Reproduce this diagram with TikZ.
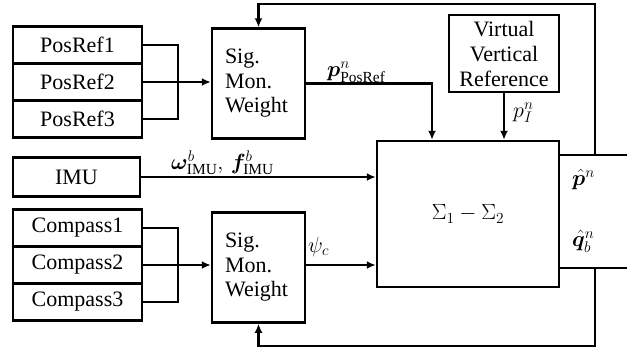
\RequirePackage{fix-cm}
\documentclass[tikz,border=0pt]{standalone}
\usepackage{amsmath}
\usepackage{fontspec}
\usepackage{bm}
\setmainfont{Liberation Serif}
\usetikzlibrary{arrows.meta,calc}
\begin{document}
\begin{tikzpicture}[x=1pt,y=-1pt,
  box/.style={draw,line width=2.5pt,inner sep=0pt,font=\fontsize{22}{25}\selectfont},
  wire/.style={line width=2.2pt},
  arr/.style={wire,-{Latex[length=9pt,width=8pt]}},
  lbl/.style={font=\fontsize{22}{25}\selectfont,inner sep=0pt},
  sigbox/.style={box,minimum width=93pt,minimum height=110pt,text width=67pt,inner xsep=13pt,align=left,font=\fontsize{22}{24.5}\selectfont}]
\useasboundingbox (0,0) rectangle (627,354);
% sources
\node[box,minimum width=129pt,minimum height=37pt] (pr1) at (77.5,45) {PosRef1};
\node[box,minimum width=129pt,minimum height=37pt] (pr2) at (77.5,82) {PosRef2};
\node[box,minimum width=129pt,minimum height=37pt] (pr3) at (77.5,119) {PosRef3};
\node[box,minimum width=127pt,minimum height=39pt] (imu) at (76.5,177) {IMU};
\node[box,minimum width=129pt,minimum height=37pt] (c1) at (77.5,228) {Compass1};
\node[box,minimum width=129pt,minimum height=37pt] (c2) at (77.5,265) {Compass2};
\node[box,minimum width=129pt,minimum height=37pt] (c3) at (77.5,302) {Compass3};
% monitors
\node[sigbox] (sig1) at (258.5,83.5) {Sig.\\Mon.\\Weight};
\node[sigbox] (sig2) at (258.5,267.5) {Sig.\\Mon.\\Weight};
% VVR and filter
\node[box,minimum width=110pt,minimum height=77pt,align=center,font=\fontsize{22}{25}\selectfont] (vvr) at (504,53.5) {Virtual\\Vertical\\Reference};
\node[box,minimum width=182pt,minimum height=146pt] (ekf) at (468,214) {$\Sigma_1-\Sigma_2$};
% brackets
\coordinate (b1) at (178,0);
\draw[wire] (pr1.east) -| (b1 |- pr3.east) -- (pr3.east);
\draw[arr] (pr2.east) -- (pr2.east -| sig1.west);
\draw[wire] (c1.east) -| (b1 |- c3.east) -- (c3.east);
\draw[arr] (c2.east) -- (c2.east -| sig2.west);
% signals to filter
\coordinate (k1) at (432,0);
\draw[arr] (sig1.east) -| (k1 |- ekf.north);
\draw[arr] (vvr.south) -- (vvr.south |- ekf.north);
\draw[arr] (imu.east) -- (imu.east -| ekf.west);
\draw[arr] (c2.east -| sig2.east) -- (c2.east -| ekf.west);
% outputs and feedback
\coordinate (o1) at (627,155);
\coordinate (o2) at (627,268);
\coordinate (f1) at (595,155);
\coordinate (f1t) at (595,4);
\coordinate (f2) at (595,268);
\coordinate (f2b) at (595,346);
\draw[wire] (o1 -| ekf.east) -- (o1);
\draw[wire] (o2 -| ekf.east) -- (o2);
\draw[arr] (f1) -- (f1t) -| (sig1.north);
\draw[arr] (f2) -- (f2b) -| (sig2.south);
% labels
\node[lbl,anchor=base west] (lp) at (327,76) {$\bm{p}^n_{\mathrm{PosRef}}$};
\node[lbl,anchor=base west] (lpi) at (513,117) {$p^n_I$};
\node[lbl,anchor=base west] (lw) at (171,169.5) {$\bm{\omega}^b_{\mathrm{IMU}},\,\bm{f}^b_{\mathrm{IMU}}$};
\node[lbl,anchor=base west] (lpsi) at (308,252) {$\psi_c$};
\node[lbl,anchor=base west] (lph) at (572,185) {$\hat{\bm{p}}^n$};
\node[lbl,anchor=base west] (lqh) at (572,246) {$\hat{\bm{q}}^n_b$};
\end{tikzpicture}
\end{document}
